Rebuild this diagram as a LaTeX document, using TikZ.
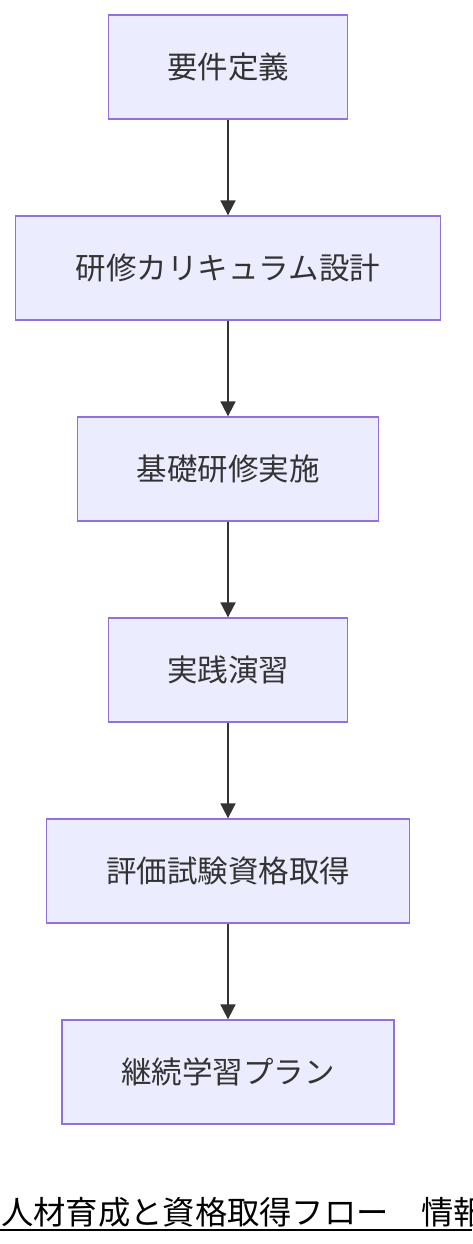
\documentclass[tikz,border=0pt]{standalone}
\usepackage{fontspec}
\newfontfamily\cjk{Noto Sans CJK JP}
\usetikzlibrary{arrows.meta}
\definecolor{nodefill}{HTML}{ECECFF}
\definecolor{nodeborder}{HTML}{9370DB}
\definecolor{edgecol}{HTML}{333333}
\tikzset{
  stepbox/.style={draw=nodeborder, fill=nodefill, line width=1.3pt, minimum height=104pt,
    font=\cjk\fontsize{30.5}{33}\selectfont, text=edgecol, inner sep=0pt},
  flowarrow/.style={draw=edgecol, line width=1.8pt, -{Triangle[length=15pt,width=15pt]}}
}
\begin{document}
\begin{tikzpicture}[x=1pt,y=-1pt]
\useasboundingbox (0,0) rectangle (472,1244);
\fill[white] (0,0) rectangle (472,1244);
\node[stepbox, minimum width=239pt] (n1) at (228,67) {要件定義};
\node[stepbox, minimum width=425pt] (n2) at (228,268) {研修カリキュラム設計};
\node[stepbox, minimum width=301pt] (n3) at (228,469) {基礎研修実施};
\node[stepbox, minimum width=239pt] (n4) at (228,670) {実践演習};
\node[stepbox, minimum width=363pt] (n5) at (228,871) {評価試験資格取得};
\node[stepbox, minimum width=332pt] (n6) at (228,1072) {継続学習プラン};
\draw[flowarrow] (n1) -- (n2);
\draw[flowarrow] (n2) -- (n3);
\draw[flowarrow] (n3) -- (n4);
\draw[flowarrow] (n4) -- (n5);
\draw[flowarrow] (n5) -- (n6);
\node[anchor=base west, inner sep=0pt, font=\cjk\fontsize{32.3}{35}\selectfont, text=black] (title) at (1,1224) {人材育成と資格取得フロー　情報};
\coordinate (ulA) at (0,1229.5);
\coordinate (ulB) at (472,1229.5);
\draw[black, line width=2pt] (ulA) -- (ulB);
\end{tikzpicture}
\end{document}
